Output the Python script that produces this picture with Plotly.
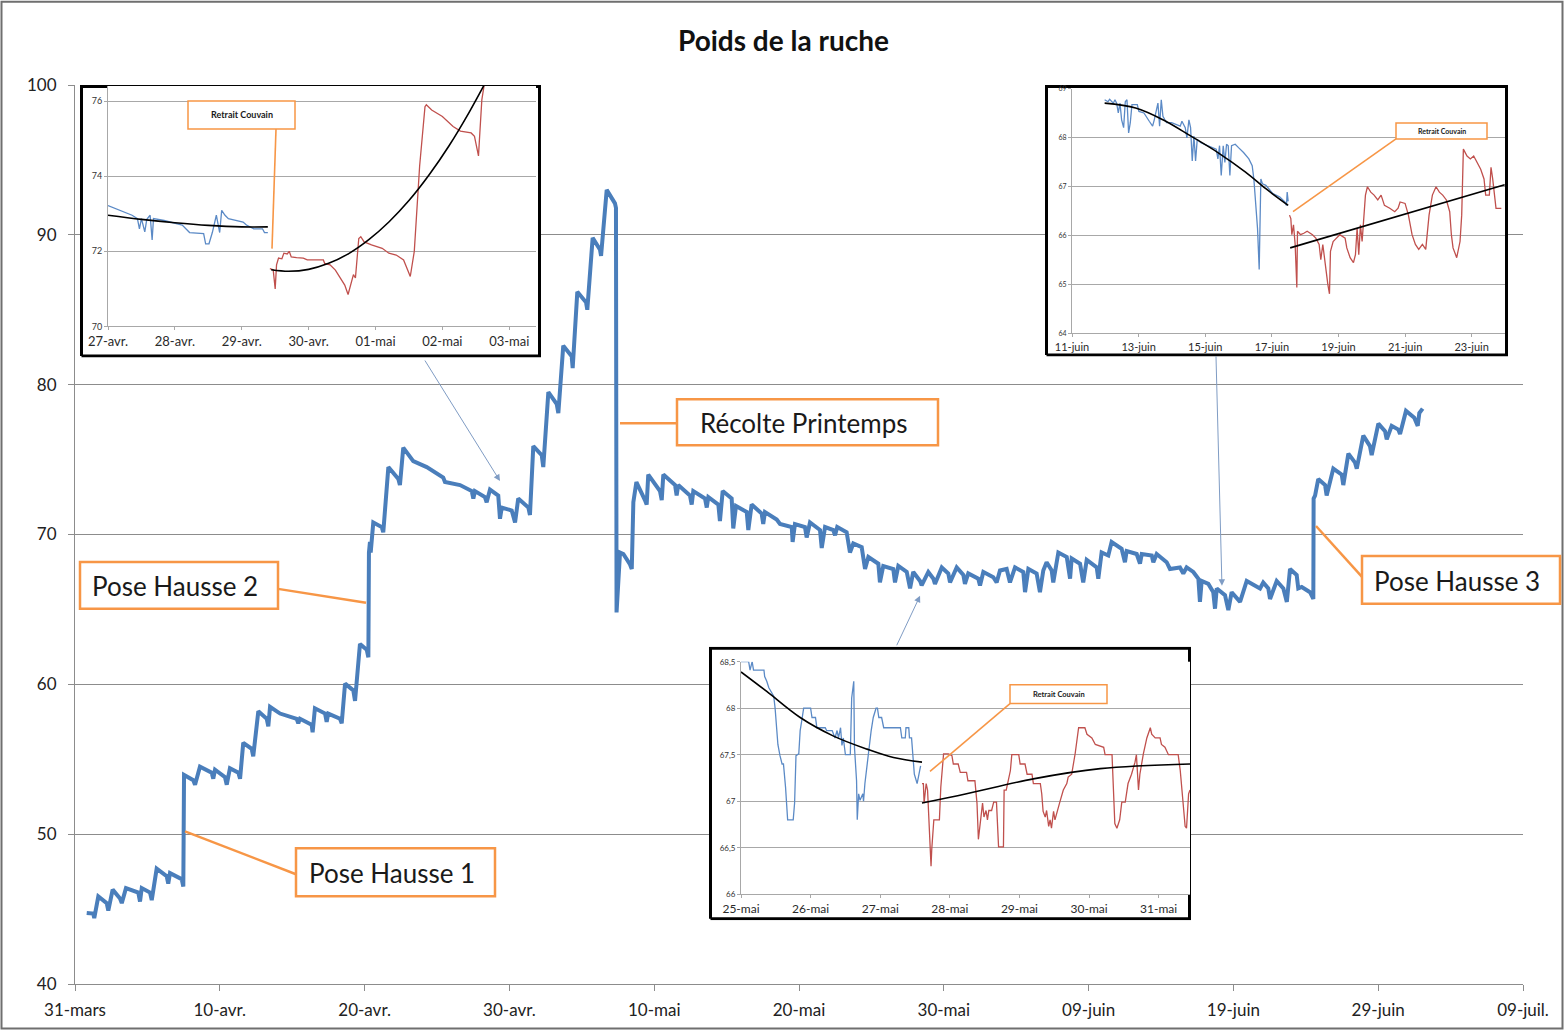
import pandas as pd
import plotly.graph_objects as go

# ---------------- data ----------------
START = "2013-03-31"
main_days = [0.81,1.26,1.33,1.61,2.19,2.30,2.60,3.11,3.23,3.52,
    4.37,4.49,4.61,5.18,5.30,5.64,6.33,6.44,6.56,7.37,
    7.48,7.53,8.17,8.29,8.63,9.44,9.55,9.67,10.36,10.48,
    10.70,11.28,11.40,11.62,12.20,12.31,12.66,13.24,13.35,13.47,
    14.16,15.31,15.42,15.54,16.34,16.41,16.57,17.27,17.38,17.49,
    18.30,18.42,18.65,19.22,19.34,19.68,20.15,20.26,20.30,20.37,
    20.42,20.60,21.18,21.29,21.64,22.33,22.44,22.67,23.36,24.29,
    25.43,25.55,26.59,27.40,27.51,27.62,28.31,28.43,28.66,29.23,
    29.35,29.47,30.16,30.39,30.61,31.31,31.42,31.65,32.23,32.34,
    32.69,33.27,33.38,33.72,34.30,34.37,34.69,35.29,35.38,35.75,
    36.26,36.33,36.72,37.29,37.36,37.40,37.64,37.87,38.33,38.45,
    38.56,38.77,39.36,39.48,39.59,40.40,40.52,40.63,41.44,41.55,
    41.66,42.47,42.59,42.70,43.51,43.63,43.74,44.43,44.54,44.73,
    45.35,45.46,45.65,46.39,46.50,46.73,47.42,47.53,47.65,48.46,
    48.69,49.50,49.56,49.72,50.41,50.53,50.76,51.45,51.57,51.80,
    52.37,52.49,52.64,53.29,53.52,53.75,54.33,54.56,54.79,55.48,
    55.59,55.82,56.51,56.63,56.86,57.44,57.67,57.89,58.36,58.47,
    58.93,59.28,59.39,59.86,60.31,60.43,60.89,61.35,61.46,61.69,
    62.38,62.50,62.73,63.42,63.65,63.88,64.34,64.57,64.92,65.49,
    65.61,65.84,66.41,66.64,66.87,67.10,67.45,67.56,67.91,68.49,
    68.72,68.83,69.41,69.63,69.87,70.56,70.67,70.90,71.36,71.59,
    72.28,72.51,72.63,73.32,73.55,73.67,74.36,74.47,74.70,75.39,
    75.62,76.31,76.54,76.77,77.23,77.58,77.69,77.81,78.27,78.61,
    78.73,78.85,79.42,79.65,79.88,80.34,80.46,80.92,81.61,81.84,
    82.06,82.41,82.53,82.99,83.45,83.69,83.91,84.37,84.48,84.72,
    85.29,85.52,85.54,85.64,85.86,86.33,86.44,86.90,87.48,87.59,
    87.94,88.40,88.52,88.97,89.43,89.55,90.01,90.47,90.59,90.93,
    91.39,91.51,91.92,92.49,92.73,92.84,93.07]
main_kg = [44.74,44.7,44.4,45.85,45.4,44.9,46.3,45.7,45.4,46.4,
    46.1,45.5,46.4,46.1,45.6,47.7,47.2,46.7,47.4,47.0,
    46.5,53.95,53.6,53.3,54.5,54.1,53.7,54.3,53.8,53.3,
    54.4,54.1,53.7,56.1,55.7,55.2,58.2,57.7,57.2,58.5,
    58.05,57.7,57.4,57.7,57.3,56.8,58.4,58.05,57.5,58.05,
    57.7,57.4,60.05,59.6,58.9,62.7,62.3,61.8,68.8,69.5,
    68.8,70.8,70.5,70.15,74.5,73.7,73.3,75.8,74.9,74.5,
    73.8,73.5,73.3,72.9,72.4,72.9,72.5,72.15,73.0,72.6,
    71.05,71.8,71.6,70.8,72.4,71.8,71.3,75.9,75.3,74.5,
    79.5,78.7,78.1,82.6,81.9,81.1,86.2,85.5,85.0,89.8,
    89.0,88.6,93.0,92.1,91.8,64.8,68.8,68.7,68.0,67.7,
    72.15,73.5,72.3,72.0,74.0,72.9,72.3,74.0,73.3,72.6,
    73.3,72.6,72.0,72.9,72.4,71.8,72.5,72.0,70.9,72.9,
    72.4,70.4,71.9,71.5,70.3,72.0,71.4,70.7,71.5,71.0,
    70.7,70.5,69.5,70.7,70.5,69.8,70.8,70.3,69.1,70.5,
    70.3,69.95,70.5,70.15,68.8,69.4,69.15,67.7,68.5,68.05,
    66.8,67.9,67.7,66.8,67.9,67.5,66.4,67.5,66.9,66.6,
    67.5,67.05,66.7,67.8,67.4,66.8,67.8,67.3,66.7,67.4,
    67.05,66.6,67.5,67.15,66.8,67.6,67.7,66.8,67.8,67.5,
    66.15,67.7,67.4,66.15,67.6,68.15,67.6,66.8,68.8,68.5,
    67.05,68.4,68.05,66.8,68.3,67.8,67.05,68.8,68.6,69.5,
    69.05,68.15,68.9,68.7,68.05,68.7,68.6,68.15,68.7,68.15,
    67.7,67.8,67.4,67.8,67.5,67.05,65.5,66.9,66.7,66.15,
    65.05,66.4,65.95,64.95,66.15,65.7,65.5,66.9,66.5,66.4,
    66.8,66.4,65.7,66.9,66.4,65.5,67.7,67.3,66.4,66.5,
    66.15,65.7,72.4,72.6,73.7,73.3,72.6,74.4,74.0,73.3,
    75.4,74.8,74.4,76.6,75.9,75.3,77.4,76.9,76.35,77.25,
    77.0,76.7,78.25,77.8,77.25,78.1,78.4]
main_ticktext = ["31-mars","10-avr.","20-avr.","30-avr.","10-mai","20-mai",
                 "30-mai","09-juin","19-juin","29-juin","09-juil."]

# Inset 1 : 27-avr. -> 03-mai
in1_start = "2013-04-27"
in1_blue_days = [0.00,0.10,0.23,0.36,0.44,0.47,0.50,0.55,0.58,0.63,
    0.66,0.68,0.84,1.00,1.11,1.22,1.43,1.46,1.51,1.56,
    1.62,1.67,1.70,1.75,1.80,2.02,2.07,2.18,2.31,2.34,2.39]
in1_blue_kg = [73.22,73.15,73.06,72.96,72.87,72.60,72.87,72.52,72.85,72.96,
    72.30,72.87,72.82,72.76,72.70,72.50,72.47,72.20,72.20,72.50,
    72.96,72.50,73.09,72.96,72.87,72.78,72.70,72.60,72.60,72.50,72.50]
in1_blue_trend_days = [0.0,0.5,1.0,1.5,2.0,2.39]
in1_blue_trend_kg = [72.96,72.85,72.76,72.69,72.65,72.65]
in1_red_days = [2.42,2.47,2.50,2.52,2.55,2.60,2.63,2.68,2.71,2.74,
    2.82,2.92,2.98,3.22,3.24,3.32,3.40,3.48,3.54,3.59,
    3.62,3.67,3.70,3.72,3.75,3.78,3.83,3.94,4.10,4.20,
    4.31,4.42,4.47,4.52,4.58,4.66,4.74,4.76,4.84,5.00,
    5.16,5.27,5.43,5.48,5.51,5.54,5.56,5.59,5.64]
in1_red_kg = [71.54,71.51,71.00,71.64,71.82,71.80,71.95,71.93,72.00,71.85,
    71.83,71.82,71.77,71.77,71.68,71.64,71.50,71.29,71.10,70.85,
    71.03,71.38,71.29,71.82,72.34,72.39,72.25,72.17,72.08,71.95,
    71.90,71.77,71.55,71.33,72.00,74.27,75.85,75.90,75.76,75.59,
    75.32,75.20,75.15,75.06,74.80,74.54,75.15,76.03,76.60]
in1_red_trend_days = [2.44,2.70,3.00,3.30,3.60,3.90,4.20,4.50,4.80,5.10,5.40,5.64]
in1_red_trend_kg = [71.51,71.47,71.52,71.68,71.94,72.31,72.78,73.35,74.03,74.81,75.70,76.48]
in1_ticktext = ["27-avr.","28-avr.","29-avr.","30-avr.","01-mai","02-mai","03-mai"]
in1_yticks = [70, 72, 74, 76]

# Inset 2 : 11-juin -> 24-juin
in2_start = "2013-06-11"
in2_blue_days = [0.98,1.08,1.13,1.24,1.29,1.34,1.39,1.44,1.49,1.55,
    1.60,1.65,1.70,1.75,1.80,1.96,2.01,2.16,2.32,2.42,
    2.47,2.53,2.58,2.63,2.68,2.73,2.84,2.99,3.14,3.25,
    3.30,3.40,3.45,3.51,3.56,3.61,3.66,3.71,3.76,3.87,
    4.07,4.23,4.33,4.38,4.43,4.48,4.54,4.59,4.64,4.69,
    4.74,4.79,4.90,5.00,5.15,5.31,5.41,5.46,5.52,5.57,
    5.62,5.64,5.67,5.72,5.82,6.03,6.24,6.39,6.44,6.46,6.49]
in2_blue_kg = [68.78,68.74,68.79,68.71,68.78,68.71,68.51,68.71,68.37,68.21,
    68.74,68.78,68.10,68.31,68.68,68.68,68.54,68.51,68.34,68.24,
    68.37,68.58,68.71,68.24,68.78,68.44,68.31,68.31,68.27,68.24,
    68.34,68.21,68.00,68.37,68.21,67.53,68.04,67.53,67.97,67.90,
    67.84,67.80,67.77,67.57,67.84,67.23,67.84,67.50,67.87,67.84,
    67.23,67.84,67.87,67.80,67.70,67.57,67.43,67.16,66.62,66.15,
    65.31,66.35,67.16,67.06,67.03,66.86,66.79,66.69,66.62,66.89,66.70]
in2_blue_trend_days = [0.98,1.91,2.73,3.56,4.38,5.21,5.82,6.49]
in2_blue_trend_kg = [68.71,68.61,68.37,68.04,67.70,67.30,66.96,66.62]
in2_red_days = [6.53,6.57,6.60,6.65,6.70,6.75,6.77,6.86,6.96,7.06,
    7.22,7.32,7.42,7.47,7.53,7.58,7.63,7.68,7.73,7.76,
    7.84,7.94,8.04,8.20,8.25,8.35,8.45,8.51,8.56,8.61,
    8.66,8.71,8.76,8.81,8.87,8.97,9.07,9.18,9.28,9.38,
    9.54,9.69,9.79,9.85,10.00,10.10,10.21,10.31,10.41,10.52,
    10.62,10.72,10.82,10.93,11.03,11.13,11.24,11.34,11.39,11.44,
    11.55,11.65,11.70,11.75,11.86,11.96,12.06,12.16,12.27,12.37,
    12.42,12.53,12.58,12.63,12.73,12.89]
in2_red_kg = [66.42,66.35,66.02,66.22,65.82,64.94,66.09,66.02,66.05,66.09,
    66.02,65.95,65.82,65.51,65.82,65.48,65.28,65.01,64.81,65.68,
    65.88,65.95,66.02,65.95,65.75,65.55,65.45,65.61,66.15,65.61,
    66.22,65.88,66.49,66.83,67.00,66.89,66.83,66.73,66.83,66.62,
    66.56,66.49,66.56,66.69,66.66,66.42,66.02,65.82,65.72,65.82,
    65.72,66.42,66.83,67.00,66.89,66.83,66.73,66.49,66.02,65.75,
    65.55,65.88,66.42,67.77,67.63,67.57,67.63,67.50,67.36,67.16,
    66.83,66.83,67.40,67.16,66.56,66.56]
in2_red_trend_days = [6.55, 12.99]
in2_red_trend_kg = [65.75, 67.04]
in2_ticktext = ["11-juin","13-juin","15-juin","17-juin","19-juin","21-juin","23-juin"]
in2_yticks = [64, 65, 66, 67, 68, 69]

# Inset 3 : 25-mai -> 31-mai
in3_start = "2013-05-25"
in3_blue_days = [0.00,0.11,0.13,0.16,0.18,0.33,0.34,0.37,0.40,0.44,
    0.47,0.49,0.51,0.53,0.56,0.59,0.61,0.64,0.67,0.75,
    0.77,0.79,0.83,0.85,0.88,0.90,1.00,1.02,1.07,1.09,
    1.21,1.23,1.31,1.33,1.35,1.38,1.40,1.43,1.45,1.47,
    1.50,1.57,1.59,1.62,1.63,1.66,1.67,1.69,1.71,1.75,
    1.76,1.78,1.81,1.83,1.87,1.90,1.94,1.96,1.98,2.02,
    2.05,2.29,2.31,2.36,2.37,2.41,2.42,2.45,2.47,2.49,
    2.53,2.56,2.58]
in3_blue_kg = [68.50,68.50,68.41,68.50,68.41,68.41,68.34,68.29,68.22,68.16,
    68.13,68.00,67.76,67.61,67.49,67.40,67.40,67.15,66.80,66.80,
    66.98,67.49,67.51,67.76,67.90,68.00,68.00,67.90,67.90,67.79,
    67.79,67.76,67.76,67.72,67.68,67.76,67.68,67.79,67.60,67.68,
    67.50,67.50,68.11,68.29,67.58,67.22,66.80,67.08,67.01,67.08,
    67.00,67.19,67.40,67.51,67.76,67.90,68.00,68.00,67.90,67.90,
    67.79,67.79,67.68,67.68,67.79,67.79,67.68,67.68,67.44,67.29,
    67.19,67.29,67.38]
in3_blue_trend_days = [0.00,0.37,0.85,1.33,1.81,2.19,2.60]
in3_blue_trend_kg = [68.39,68.18,67.90,67.70,67.56,67.47,67.42]
in3_red_days = [2.60,2.62,2.63,2.66,2.68,2.71,2.73,2.74,2.77,2.85,
    2.87,2.91,2.98,3.03,3.05,3.12,3.15,3.24,3.26,3.36,
    3.39,3.41,3.44,3.47,3.49,3.52,3.54,3.56,3.60,3.63,
    3.67,3.70,3.77,3.78,3.81,3.83,3.87,3.89,3.99,4.01,
    4.08,4.11,4.18,4.20,4.30,4.32,4.34,4.37,4.39,4.42,
    4.44,4.46,4.49,4.51,4.54,4.58,4.63,4.68,4.70,4.75,
    4.80,4.85,4.94,4.97,5.04,5.09,5.21,5.23,5.33,5.34,
    5.37,5.40,5.44,5.47,5.52,5.56,5.61,5.66,5.68,5.71,
    5.73,5.78,5.83,5.88,5.90,5.95,6.02,6.04,6.09,6.14,
    6.28,6.31,6.35,6.38,6.40,6.43,6.45]
in3_red_kg = [67.19,67.19,66.98,67.19,67.12,66.62,66.30,66.48,66.80,66.80,
    67.15,67.51,67.51,67.49,67.40,67.40,67.31,67.31,67.22,67.22,
    66.98,66.59,66.76,66.98,66.83,66.90,66.80,66.90,66.90,66.99,
    66.99,66.51,66.51,67.12,67.12,67.19,67.33,67.50,67.50,67.40,
    67.40,67.29,67.29,67.19,67.19,67.08,66.89,66.83,66.90,66.73,
    66.80,66.71,66.89,66.80,66.89,66.99,67.12,67.19,67.26,67.29,
    67.51,67.79,67.79,67.72,67.68,67.61,67.58,67.50,67.50,67.33,
    66.76,66.71,66.80,66.99,66.99,67.19,67.29,67.42,67.50,67.12,
    67.29,67.51,67.68,67.79,67.72,67.68,67.68,67.61,67.58,67.50,
    67.50,67.33,67.01,66.73,66.71,67.08,67.12]
in3_red_trend_days = [2.60,3.24,4.20,5.16,6.45]
in3_red_trend_kg = [66.98,67.08,67.24,67.35,67.40]
in3_ticktext = ["25-mai","26-mai","27-mai","28-mai","29-mai","30-mai","31-mai"]
in3_yticks = [66, 66.5, 67, 67.5, 68, 68.5]
in3_yticktext = ["66","66,5","67","67,5","68","68,5"]

# arrows from insets to the main curve (day offset, kg)
arrow_days = [29.35, 79.21, 58.36]
arrow_kg = [73.57, 66.58, 65.91]

callouts = ["Pose Hausse 1", "Pose Hausse 2", "Récolte Printemps", "Pose Hausse 3"]

for a, b in [(main_days, main_kg), (in1_blue_days, in1_blue_kg), (in1_red_days, in1_red_kg),
             (in2_blue_days, in2_blue_kg), (in2_red_days, in2_red_kg),
             (in3_blue_days, in3_blue_kg), (in3_red_days, in3_red_kg),
             (in1_red_trend_days, in1_red_trend_kg)]:
    assert len(a) == len(b), (len(a), len(b))

# ---------------- layout helpers ----------------
W, H = 1564, 1032
ML, MR, MT, MB = 75, 41, 85, 46
PW, PH = W - ML - MR, H - MT - MB

def fx(p):
    return (p - ML) / PW

def fy(p):
    return (H - MB - p) / PH

def dates(base, days):
    return pd.Timestamp(base) + pd.to_timedelta(days, unit="D")

FONT = "Lato, 'Open Sans', sans-serif"
MAIN_BLUE = "#4A7EBB"
IN_BLUE = "#5B8AC6"
IN_RED = "#C0504D"
ORANGE = "#F79646"
GRID = "#8C8C8C"
IGRID = "#A8A8A8"

fig = go.Figure()
fig.add_trace(go.Scatter(x=dates(START, main_days), y=main_kg, mode="lines",
                         line=dict(color=MAIN_BLUE, width=4), xaxis="x", yaxis="y",
                         hoverinfo="skip"))

layout = dict(
    width=W, height=H, margin=dict(l=ML, r=MR, t=MT, b=MB),
    paper_bgcolor="white", plot_bgcolor="white", showlegend=False,
    font=dict(family=FONT, color="#222"),
    xaxis=dict(type="date", domain=[0, 1],
               range=[pd.Timestamp(START), pd.Timestamp(START) + pd.Timedelta(days=100)],
               tickvals=pd.date_range(START, periods=11, freq="10D"), ticktext=main_ticktext,
               showgrid=False, zeroline=False, showline=True, linecolor=GRID, linewidth=1,
               ticks="outside", ticklen=6, tickcolor=GRID, ticklabelstandoff=5,
               tickfont=dict(size=17, color="#222")),
    yaxis=dict(range=[40, 100], tickvals=[40, 50, 60, 70, 80, 90, 100], showgrid=True,
               gridcolor=GRID, gridwidth=1, zeroline=False, showline=True, linecolor=GRID,
               ticks="outside", ticklen=6, tickcolor=GRID, ticklabelstandoff=8,
               tickfont=dict(size=17, color="#222")),
)

insets = [
    dict(box=(80, 85, 541, 358), plot=(108, 86, 536, 327), start=in1_start, span=6.4,
         yr=[70, 76.4], ytv=in1_yticks, ytt=[str(v) for v in in1_yticks], ytf=9,
         xtt=in1_ticktext, xstep=1, xtf=13,
         series=[(in1_blue_days, in1_blue_kg, IN_BLUE), (in1_red_days, in1_red_kg, IN_RED)],
         trends=[(in1_blue_trend_days, in1_blue_trend_kg), (in1_red_trend_days, in1_red_trend_kg)]),
    dict(box=(1045, 85, 1508, 357), plot=(1072, 89, 1505, 334), start=in2_start, span=13.0,
         yr=[64, 69], ytv=in2_yticks, ytt=[str(v) for v in in2_yticks], ytf=7,
         xtt=in2_ticktext, xstep=2, xtf=11,
         series=[(in2_blue_days, in2_blue_kg, IN_BLUE), (in2_red_days, in2_red_kg, IN_RED)],
         trends=[(in2_blue_trend_days, in2_blue_trend_kg), (in2_red_trend_days, in2_red_trend_kg)]),
    dict(box=(709, 648, 1191, 922), plot=(741, 663, 1190, 896), start=in3_start, span=6.45,
         yr=[66, 68.5], ytv=in3_yticks, ytt=in3_yticktext, ytf=8,
         xtt=in3_ticktext, xstep=1, xtf=12,
         series=[(in3_blue_days, in3_blue_kg, IN_BLUE), (in3_red_days, in3_red_kg, IN_RED)],
         trends=[(in3_blue_trend_days, in3_blue_trend_kg), (in3_red_trend_days, in3_red_trend_kg)]),
]

n = 2
for ins in insets:
    bx0, by0, bx1, by1 = ins["box"]
    padx, pady = 1.5 / (bx1 - bx0), 1.5 / (by1 - by0)
    # white framed background (its own subplot, drawn above the main chart)
    layout[f"xaxis{n}"] = dict(domain=[fx(bx0), fx(bx1)], range=[-padx, 1 + padx],
                               visible=False, anchor=f"y{n}")
    layout[f"yaxis{n}"] = dict(domain=[fy(by1), fy(by0)], range=[-pady, 1 + pady],
                               visible=False, anchor=f"x{n}")
    fig.add_trace(go.Scatter(x=[0, 1, 1, 0, 0], y=[0, 0, 1, 1, 0], mode="lines", fill="toself",
                             fillcolor="white", line=dict(color="black", width=3),
                             xaxis=f"x{n}", yaxis=f"y{n}", hoverinfo="skip"))
    m = n + 1
    px0, py0, px1, py1 = ins["plot"]
    st = pd.Timestamp(ins["start"])
    layout[f"xaxis{m}"] = dict(domain=[fx(px0), fx(px1)], type="date", anchor=f"y{m}",
                               range=[st, st + pd.Timedelta(days=ins["span"])],
                               tickvals=pd.date_range(st, periods=len(ins["xtt"]), freq=f"{ins['xstep']}D"),
                               ticktext=ins["xtt"], showgrid=False, zeroline=False, showline=True,
                               linecolor=IGRID, ticks="outside", ticklen=3, tickcolor=IGRID,
                               ticklabelstandoff=0,
                               tickfont=dict(size=ins["xtf"], color="#2a2a2a"))
    layout[f"yaxis{m}"] = dict(domain=[fy(py1), fy(py0)], range=ins["yr"], anchor=f"x{m}",
                               tickvals=ins["ytv"], ticktext=ins["ytt"], showgrid=True,
                               gridcolor=IGRID, zeroline=False, showline=True, linecolor=IGRID,
                               ticks="outside", ticklen=3, tickcolor=IGRID,
                               tickfont=dict(size=ins["ytf"], color="#333"))
    for d, v, c in ins["series"]:
        fig.add_trace(go.Scatter(x=dates(st, d), y=v, mode="lines", line=dict(color=c, width=1.3),
                                 xaxis=f"x{m}", yaxis=f"y{m}", hoverinfo="skip"))
    for d, v in ins["trends"]:
        fig.add_trace(go.Scatter(x=dates(st, d), y=v, mode="lines", line=dict(color="black", width=1.6),
                                 line_shape="spline", xaxis=f"x{m}", yaxis=f"y{m}", hoverinfo="skip"))
    n += 2

fig.update_layout(**layout)

shapes = []
annotations = []

def prect(x0, y0, x1, y1, color, width, fill="white"):
    shapes.append(dict(type="rect", xref="paper", yref="paper", x0=fx(x0), x1=fx(x1),
                       y0=fy(y1), y1=fy(y0), line=dict(color=color, width=width),
                       fillcolor=fill, layer="above"))

def pline(x0, y0, x1, y1, color, width):
    shapes.append(dict(type="line", xref="paper", yref="paper", x0=fx(x0), x1=fx(x1),
                       y0=fy(y0), y1=fy(y1), line=dict(color=color, width=width), layer="above"))

def ptext(x, y, text, size, bold=False):
    annotations.append(dict(xref="paper", yref="paper", x=fx(x), y=fy(y), text=f"<b>{text}</b>" if bold else text,
                            showarrow=False, xanchor="center", yanchor="middle",
                            font=dict(size=size, family=FONT, color="#1a1a1a")))

# outer frame of the chart
shapes.append(dict(type="rect", xref="paper", yref="paper", x0=fx(1.5), x1=fx(1562.5),
                   y0=fy(1030.5), y1=fy(1.5), line=dict(color="#6f6f6f", width=2), layer="above"))

# main callouts
boxes = [(296, 850, 495, 898), (80, 563, 278, 610), (677, 400, 938, 446), (1362, 557, 1560, 605)]
leaders = [(185, 833, 296, 876), (278, 590, 366, 604), (620, 424, 677, 424), (1316, 527, 1362, 578)]
for (x0, y0, x1, y1), ln, txt in zip(boxes, leaders, callouts):
    pline(*ln, ORANGE, 2.5)
    prect(x0, y0, x1, y1, ORANGE, 2.5)
    ptext((x0 + x1) / 2 - 4, (y0 + y1) / 2 + 1, txt, 26)

# "Retrait Couvain" labels inside the insets
rc_boxes = [(188, 101, 295, 129, 9), (1396, 123, 1487, 139, 7), (1010, 686, 1107, 705, 7.5)]
rc_leaders = [(276, 129, 272, 249), (1396, 139, 1293, 212), (1010, 705, 930, 773)]
for (x0, y0, x1, y1, fs), ln in zip(rc_boxes, rc_leaders):
    pline(*ln, ORANGE, 1.6)
    prect(x0, y0, x1, y1, ORANGE, 1.5)
    ptext((x0 + x1) / 2, (y0 + y1) / 2, "Retrait Couvain", fs, bold=True)

# title
annotations.append(dict(xref="paper", yref="paper", x=fx(783), y=fy(40), text="<b>Poids de la ruche</b>",
                        showarrow=False, xanchor="center", yanchor="middle",
                        font=dict(size=28, family=FONT, color="#111")))

# arrows linking insets to the curve
arrow_offsets = [(-76, -122), (-6, -231), (-24, 51)]
for d, v, (ax, ay) in zip(arrow_days, arrow_kg, arrow_offsets):
    annotations.append(dict(xref="x", yref="y", x=dates(START, [d])[0], y=v, text="",
                            showarrow=True, ax=ax, ay=ay, arrowhead=2, arrowsize=1.3,
                            arrowwidth=1, arrowcolor="#7F9CC4"))

fig.update_layout(shapes=shapes, annotations=annotations)

fig.write_html("out.html", config={"displayModeBar": False},
               post_script="document.body.style.margin='0';document.body.style.overflow='hidden';")
